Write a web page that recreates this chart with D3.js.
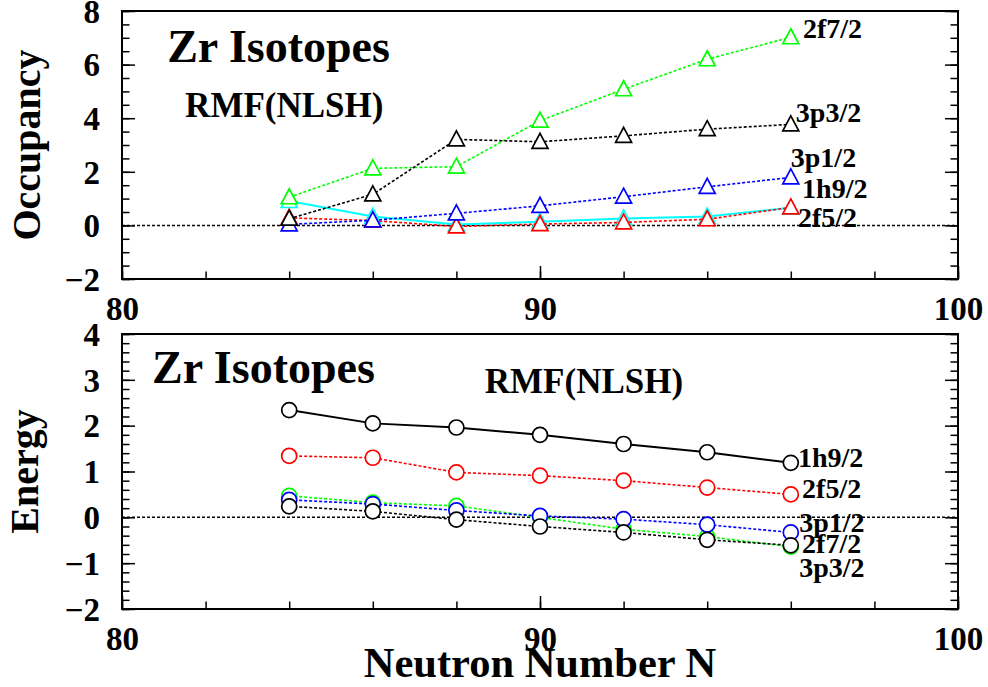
<!DOCTYPE html>
<html>
<head>
<meta charset="utf-8">
<script src="https://cdn.jsdelivr.net/npm/d3@7"></script>
<style>
  body { margin: 0; background: #fff; }
  svg { display: block; font-family: "Liberation Serif", "Times New Roman", serif; font-weight: bold; }
  .tick text { font-family: "Liberation Serif", serif; font-weight: bold; }
</style>
</head>
<body>
<script>
// neutron numbers of the Zr isotopes
const neutronN = [84, 86, 88, 90, 92, 94, 96];

// occupancy of the levels (upper panel)
const occ1h92 = [0.91, 0.33, 0.03, 0.14, 0.26, 0.33, 0.66];
const occ2f52 = [0.28, 0.18, -0.04, 0.05, 0.11, 0.23, 0.67];
const occ3p12 = [0.04, 0.19, 0.45, 0.73, 1.07, 1.44, 1.79];
const occ2f72 = [1.05, 2.13, 2.19, 3.91, 5.08, 6.2, 7.02];
const occ3p32 = [0.25, 1.16, 3.21, 3.12, 3.34, 3.59, 3.77];

// single particle energies (lower panel)
const e1h92 = [2.34, 2.05, 1.96, 1.80, 1.60, 1.42, 1.19];
const e2f52 = [1.34, 1.30, 0.98, 0.91, 0.80, 0.65, 0.50];
const e2f72 = [0.47, 0.32, 0.25, 0.0, -0.26, -0.42, -0.64];
const e3p12 = [0.38, 0.29, 0.15, 0.03, -0.04, -0.16, -0.33];
const e3p32 = [0.24, 0.13, -0.05, -0.20, -0.33, -0.49, -0.61];

const xTickLabels = [80, 90, 100];
const occTickLabels = [-2, 0, 2, 4, 6, 8];
const energyTickLabels = [-2, -1, 0, 1, 2, 3, 4];

const width = 988;
const height = 687;
const left = 122, right = 958;

const svg = d3.select("body").append("svg")
  .attr("width", width)
  .attr("height", height);

svg.append("rect").attr("width", width).attr("height", height).attr("fill", "#fff");

const x = d3.scaleLinear().domain([80, 100]).range([left, right]);

const fmt = d => (d < 0 ? "\u2212" + Math.abs(d) : String(d));

function drawPanel(opts) {
  const y = d3.scaleLinear().domain(opts.yDomain).range([opts.bottom, opts.top]);
  const g = svg.append("g");

  // minor ticks
  const minorY = d3.range(opts.yDomain[0], opts.yDomain[1] + 1e-9, opts.minorStep);
  const minorX = d3.range(80, 100.001, 2);

  const axisL = g.append("g").attr("transform", `translate(${left},0)`)
    .call(d3.axisLeft(y).tickValues(minorY).tickSize(-7.5).tickSizeOuter(0).tickFormat(""));
  const axisR = g.append("g").attr("transform", `translate(${right},0)`)
    .call(d3.axisRight(y).tickValues(minorY).tickSize(-7.5).tickSizeOuter(0).tickFormat(""));
  const axisB = g.append("g").attr("transform", `translate(0,${opts.bottom})`)
    .call(d3.axisBottom(x).tickValues(minorX).tickSize(-7.5).tickSizeOuter(0).tickFormat(""));

  // major ticks with labels
  const majL = g.append("g").attr("transform", `translate(${left},0)`)
    .call(d3.axisLeft(y).tickValues(opts.yTicks).tickSize(-13).tickSizeOuter(0).tickPadding(22).tickFormat(fmt));
  const majR = g.append("g").attr("transform", `translate(${right},0)`)
    .call(d3.axisRight(y).tickValues(opts.yTicks).tickSize(-13).tickSizeOuter(0).tickFormat(""));
  const majB = g.append("g").attr("transform", `translate(0,${opts.bottom})`)
    .call(d3.axisBottom(x).tickValues(xTickLabels).tickSize(-13).tickSizeOuter(0).tickPadding(opts.xPad).tickFormat(d3.format("d")));

  [axisL, axisR, axisB, majL, majR, majB].forEach(a => {
    a.select(".domain").remove();
    a.selectAll(".tick line").attr("stroke", "#000").attr("stroke-width", 1.5);
    a.selectAll(".tick text").attr("fill", "#000").attr("font-size", 33);
  });
  majL.selectAll(".tick text").attr("dy", "0.34em");

  // frame
  g.append("rect")
    .attr("x", left).attr("y", opts.top)
    .attr("width", right - left).attr("height", opts.bottom - opts.top)
    .attr("fill", "none").attr("stroke", "#000").attr("stroke-width", 2);

  // zero line
  g.append("line")
    .attr("x1", left).attr("x2", right)
    .attr("y1", y(0)).attr("y2", y(0))
    .attr("stroke", "#000").attr("stroke-width", 1.5).attr("stroke-dasharray", "3,2");

  const line = d3.line().x(d => x(d[0])).y(d => y(d[1]));

  opts.series.forEach(s => {
    const pts = neutronN.map((n, i) => [n, s.values[i]]);
    g.append("path")
      .attr("d", line(pts))
      .attr("fill", "none")
      .attr("stroke", s.color)
      .attr("stroke-width", s.dash ? 1.6 : 2)
      .attr("stroke-dasharray", s.dash ? "3,2" : null);
    const m = g.selectAll(null).data(pts).enter();
    if (opts.marker === "triangle") {
      m.append("path")
        .attr("transform", d => `translate(${x(d[0])},${y(d[1])})`)
        .attr("d", "M0,-8.5L8,6.5L-8,6.5Z")
        .attr("fill", "#fff")
        .attr("stroke", s.color)
        .attr("stroke-width", 1.7);
    } else {
      m.append("circle")
        .attr("cx", d => x(d[0]))
        .attr("cy", d => y(d[1]))
        .attr("r", 7.5)
        .attr("fill", "#fff")
        .attr("stroke", s.color)
        .attr("stroke-width", 1.7);
    }
  });

  opts.labels.forEach(l => {
    g.append("text")
      .attr("x", x(l.n)).attr("y", y(l.v))
      .attr("font-size", l.size)
      .attr("fill", "#000")
      .text(l.text);
  });

  g.append("text")
    .attr("transform", `translate(${opts.titleX},${(opts.top + opts.bottom) / 2}) rotate(-90)`)
    .attr("text-anchor", "middle")
    .attr("font-size", 40)
    .text(opts.yTitle);
}

drawPanel({
  top: 11, bottom: 279,
  yDomain: [-2, 8], yTicks: occTickLabels, minorStep: 0.5,
  xPad: 18, marker: "triangle", yTitle: "Occupancy", titleX: 40,
  series: [
    { values: occ1h92, color: "#00ffff", dash: false },
    { values: occ2f52, color: "#ff0000", dash: true },
    { values: occ3p12, color: "#0000ff", dash: true },
    { values: occ2f72, color: "#00ff00", dash: true },
    { values: occ3p32, color: "#000000", dash: true }
  ],
  labels: [
    { text: "Zr Isotopes", n: 81.08, v: 6.1, size: 46 },
    { text: "RMF(NLSH)", n: 81.51, v: 4.04, size: 35 },
    { text: "2f7/2", n: 96.29, v: 6.99, size: 28 },
    { text: "3p3/2", n: 96.12, v: 3.86, size: 28 },
    { text: "3p1/2", n: 96.0, v: 2.18, size: 28 },
    { text: "1h9/2", n: 96.27, v: 1.02, size: 28 },
    { text: "2f5/2", n: 96.17, v: -0.06, size: 28 }
  ]
});

drawPanel({
  top: 334, bottom: 609,
  yDomain: [-2, 4], yTicks: energyTickLabels, minorStep: 0.2,
  xPad: 18, marker: "circle", yTitle: "Energy", titleX: 38,
  series: [
    { values: e1h92, color: "#000000", dash: false },
    { values: e2f52, color: "#ff0000", dash: true },
    { values: e2f72, color: "#00ff00", dash: true },
    { values: e3p12, color: "#0000ff", dash: true },
    { values: e3p32, color: "#000000", dash: true }
  ],
  labels: [
    { text: "Zr Isotopes", n: 80.72, v: 2.93, size: 46 },
    { text: "RMF(NLSH)", n: 88.68, v: 2.71, size: 35 },
    { text: "1h9/2", n: 96.17, v: 1.10, size: 28 },
    { text: "2f5/2", n: 96.27, v: 0.42, size: 28 },
    { text: "3p1/2", n: 96.2, v: -0.32, size: 28 },
    { text: "2f7/2", n: 96.27, v: -0.77, size: 28 },
    { text: "3p3/2", n: 96.2, v: -1.30, size: 28 }
  ]
});

svg.append("text")
  .attr("x", x(90)).attr("y", 677)
  .attr("text-anchor", "middle")
  .attr("font-size", 42.5)
  .text("Neutron Number N");
</script>
</body>
</html>
